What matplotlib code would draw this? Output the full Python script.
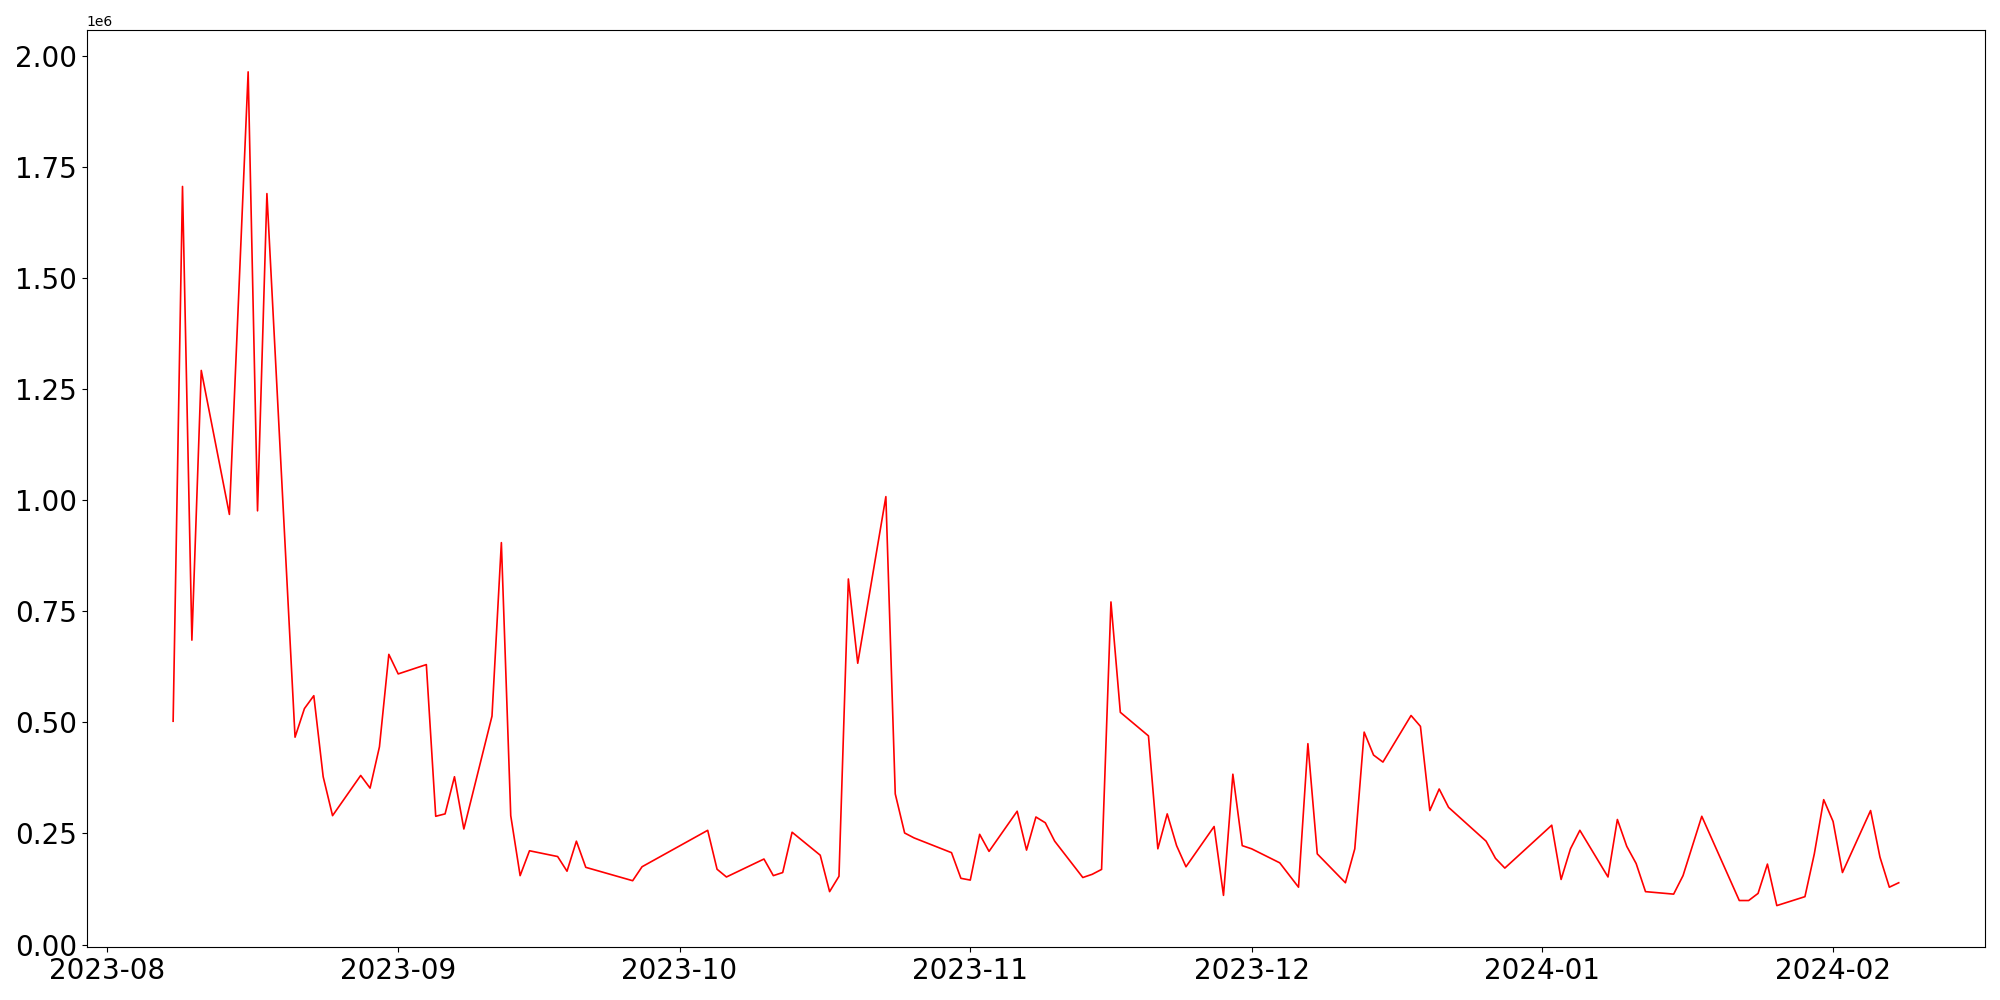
import matplotlib
matplotlib.use("Agg")
import matplotlib.pyplot as plt
import pandas as pd

dates = [
    "2023-08-08", "2023-08-09", "2023-08-10", "2023-08-11", "2023-08-14", "2023-08-16",
    "2023-08-17", "2023-08-18", "2023-08-21", "2023-08-22", "2023-08-23", "2023-08-24",
    "2023-08-25", "2023-08-28", "2023-08-29", "2023-08-30", "2023-08-31", "2023-09-01",
    "2023-09-04", "2023-09-05", "2023-09-06", "2023-09-07", "2023-09-08", "2023-09-11",
    "2023-09-12", "2023-09-13", "2023-09-14", "2023-09-15", "2023-09-18", "2023-09-19",
    "2023-09-20", "2023-09-21", "2023-09-26", "2023-09-27", "2023-10-04", "2023-10-05",
    "2023-10-06", "2023-10-10", "2023-10-11", "2023-10-12", "2023-10-13", "2023-10-16",
    "2023-10-17", "2023-10-18", "2023-10-19", "2023-10-20", "2023-10-23", "2023-10-24",
    "2023-10-25", "2023-10-26", "2023-10-30", "2023-10-31", "2023-11-01", "2023-11-02",
    "2023-11-03", "2023-11-06", "2023-11-07", "2023-11-08", "2023-11-09", "2023-11-10",
    "2023-11-13", "2023-11-14", "2023-11-15", "2023-11-16", "2023-11-17", "2023-11-20",
    "2023-11-21", "2023-11-22", "2023-11-23", "2023-11-24", "2023-11-27", "2023-11-28",
    "2023-11-29", "2023-11-30", "2023-12-01", "2023-12-04", "2023-12-06", "2023-12-07",
    "2023-12-08", "2023-12-11", "2023-12-12", "2023-12-13", "2023-12-14", "2023-12-15",
    "2023-12-18", "2023-12-19", "2023-12-20", "2023-12-21", "2023-12-22", "2023-12-26",
    "2023-12-27", "2023-12-28", "2024-01-02", "2024-01-03", "2024-01-04", "2024-01-05",
    "2024-01-08", "2024-01-09", "2024-01-10", "2024-01-11", "2024-01-12", "2024-01-15",
    "2024-01-16", "2024-01-18", "2024-01-22", "2024-01-23", "2024-01-24", "2024-01-25",
    "2024-01-26", "2024-01-29", "2024-01-30", "2024-01-31", "2024-02-01", "2024-02-02",
    "2024-02-05", "2024-02-06", "2024-02-07", "2024-02-08",
]

values = [
    502500, 1706000, 685000, 1292000, 968000, 1964000,
    976000, 1690000, 466600, 531000, 560000, 377600,
    290000, 380500, 352000, 445000, 653000, 609000,
    630000, 288600, 294000, 377600, 260000, 514000,
    904500, 290000, 155000, 211000, 198000, 165000,
    232600, 173700, 143600, 175000, 257000, 169400,
    152000, 192400, 155000, 162000, 252700, 201000,
    119000, 153600, 822700, 633000, 1008000, 339000,
    251000, 240000, 206700, 149000, 145000, 248000,
    209600, 300000, 212500, 287000, 274000, 232600,
    150800, 158000, 169000, 771000, 522600, 469500,
    215400, 294000, 222500, 175000, 265600, 110600,
    383300, 222500, 215400, 183800, 129000, 452000,
    204000, 139000, 215400, 478000, 426400, 410600,
    515400, 491000, 301500, 350000, 308700, 232600,
    194000, 172000, 268500, 146400, 215400, 257000,
    152000, 281400, 221000, 182300, 119000, 113400,
    155000, 288600, 99000, 99000, 115000, 181000,
    87600, 107700, 204000, 326000, 277000, 162000,
    301500, 196700, 129000, 139000,
]

x = pd.to_datetime(dates)

fig, ax = plt.subplots(figsize=(20, 10), dpi=100)
ax.plot(x, values, color="red", linewidth=1.2)
plt.xticks(fontsize=20)
plt.yticks(fontsize=20)
fig.tight_layout()
fig.savefig("out.png", dpi=100)
